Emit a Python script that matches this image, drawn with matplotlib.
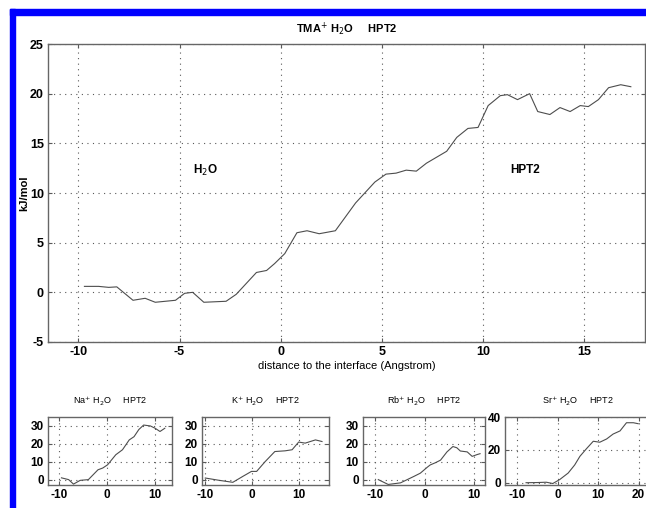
import numpy as np
import matplotlib.pyplot as plt
from matplotlib.patches import Rectangle

plt.rcParams['axes.unicode_minus'] = False

# TMA+ free energy profile across the water / HPT2 interface
tma_x = [-9.7, -9.0, -8.5, -8.1, -7.3, -6.7, -6.2, -5.7, -5.2, -4.75, -4.35, -3.8,
         -2.7, -2.2, -1.2, -0.7, -0.3, 0.2, 0.8, 1.3, 1.9, 2.7, 3.7, 4.65, 5.2,
         5.7, 6.2, 6.7, 7.2, 8.2, 8.7, 9.25, 9.75, 10.25, 10.85, 11.2, 11.7, 12.3,
         12.7, 13.3, 13.8, 14.3, 14.8, 15.2, 15.7, 16.2, 16.8, 17.3]
tma_y = [0.6, 0.6, 0.5, 0.55, -0.8, -0.6, -1.0, -0.9, -0.8, -0.1, 0.0, -1.0,
         -0.9, -0.2, 2.0, 2.2, 2.9, 3.9, 6.0, 6.2, 5.9, 6.2, 9.0, 11.1, 11.9,
         12.0, 12.3, 12.2, 13.0, 14.2, 15.6, 16.5, 16.6, 18.8, 19.8, 19.9, 19.4, 20.0,
         18.2, 17.9, 18.6, 18.2, 18.8, 18.7, 19.4, 20.6, 20.9, 20.7]

na_x = [-9.5, -8.0, -7.0, -5.6, -3.9, -1.9, -0.9, 0.1, 1.8, 3.2, 4.6, 5.6, 6.6,
        7.6, 9.0, 10.0, 11.0, 12.0]
na_y = [1.0, 0.0, -2.5, -0.4, 0.0, 5.5, 6.5, 8.3, 13.9, 16.7, 22.2, 24.0, 28.0,
        30.5, 30.0, 28.7, 26.9, 28.7]

k_x = [-10.0, -7.0, -4.1, -1.9, -0.1, 1.0, 2.8, 4.9, 7.1, 8.6, 10.0, 11.4, 13.6, 15.0]
k_y = [0.9, -0.4, -1.5, 1.9, 4.6, 4.6, 10.0, 15.7, 16.1, 16.7, 21.0, 20.4, 22.2, 21.3]

rb_x = [-9.4, -7.4, -4.9, -2.2, -0.9, 0.5, 1.1, 2.2, 3.2, 4.5, 5.7, 6.5, 7.2, 8.6,
        9.6, 10.6, 11.2]
rb_y = [0.0, -2.7, -1.8, 1.8, 3.6, 6.9, 8.2, 9.5, 10.9, 15.5, 18.5, 17.8, 16.0,
        15.5, 13.0, 14.0, 14.5]

sr_x = [-7.8, -5.0, -2.8, -1.2, 0.5, 2.6, 4.2, 5.5, 7.1, 8.8, 10.4, 12.1, 13.7,
        15.4, 17.0, 18.7, 19.9]
sr_y = [-0.1, 0.0, 0.2, -0.6, 1.8, 5.8, 10.7, 16.0, 20.6, 25.2, 24.6, 26.6, 29.6,
        31.5, 36.5, 36.5, 35.9]

FONT = 'Liberation Sans'
W, H = 646, 508
fig = plt.figure(figsize=(W / 100, H / 100), dpi=100)


def px_axes(left, top, right, bottom):
    return fig.add_axes([left / W, 1 - bottom / H, (right - left) / W, (bottom - top) / H])


def style(ax, xticks, yticks, fs):
    ax.set_xticks(xticks)
    ax.set_yticks(yticks)
    ax.grid(True, linestyle=(0, (1, 4)), color='0.35', linewidth=0.8)
    ax.tick_params(direction='in', top=True, right=True, length=3, width=0.8,
                   colors='0.35', labelcolor='black', labelsize=fs, pad=3)
    for lab in ax.get_xticklabels() + ax.get_yticklabels():
        lab.set_fontweight('bold')
        lab.set_family(FONT)
    for sp in ax.spines.values():
        sp.set_color('0.4')
        sp.set_linewidth(1.0)


# main panel
ax = px_axes(48, 44, 645, 342)
ax.plot(tma_x, tma_y, color='0.3', linewidth=0.8)
ax.set_xlim(-11.5, 18)
ax.set_ylim(-5, 25)
style(ax, [-10, -5, 0, 5, 10, 15], [-5, 0, 5, 10, 15, 20, 25], 9)
ax.set_title('TMA$^{+}$ H$_2$O     HPT2', fontsize=8, fontweight='bold', family=FONT, pad=8)
ax.set_xlabel('distance to the interface (Angstrom)', fontsize=8, family=FONT, labelpad=2)
ax.set_ylabel('kJ/mol', fontsize=8, fontweight='bold', family=FONT)
ax.yaxis.set_label_coords(-0.032, 0.5)
ax.text(-3.7, 12.3, 'H$_2$O', fontsize=8.5, fontweight='bold', family=FONT, ha='center', va='center')
ax.text(12.1, 12.3, 'HPT2', fontsize=8.5, fontweight='bold', family=FONT, ha='center', va='center')

# small panels for the other cations
panels = [
    ('Na', na_x, na_y, (48, 172), (-12.3, 13.5), (-3, 35), [0, 10, 20, 30], [-10, 0, 10]),
    ('K', k_x, k_y, (202, 329), (-10.7, 16.5), (-3, 35), [0, 10, 20, 30], [-10, 0, 10]),
    ('Rb', rb_x, rb_y, (363, 485), (-12.5, 12.2), (-3, 35), [0, 10, 20, 30], [-10, 0, 10]),
    ('Sr', sr_x, sr_y, (505, 652), (-13, 23.3), (-1.5, 40), [0, 20, 40], [-10, 0, 10, 20]),
]
for name, xs, ys, (l, r), xl, yl, yt, xt in panels:
    a = px_axes(l, 417, r, 485)
    a.plot(xs, ys, color='0.3', linewidth=0.8)
    a.set_xlim(*xl)
    a.set_ylim(*yl)
    style(a, xt, yt, 8.5)
    a.set_title(name + '$^{+}$ H$_2$O     HPT2', fontsize=6.5, family=FONT, pad=9)

# blue page frame
fig.patches.append(Rectangle((10 / W, 1 - 15 / H), 1, 6 / H, transform=fig.transFigure,
                             color='#0000ff', zorder=10))
fig.patches.append(Rectangle((10 / W, 0), 5 / W, 1 - 9 / H, transform=fig.transFigure,
                             color='#0000ff', zorder=10))

fig.savefig('out.png', dpi=100)
